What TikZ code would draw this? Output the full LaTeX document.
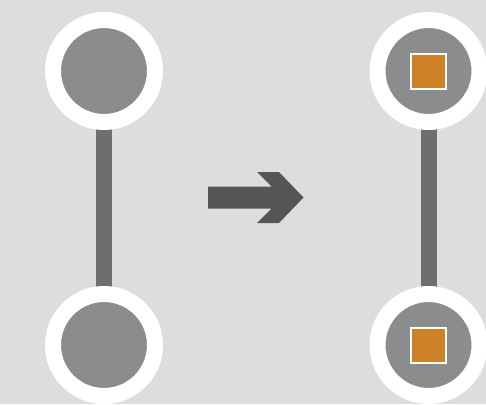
\documentclass[tikz,border=0pt]{standalone}
\definecolor{bgc}{HTML}{DCDDDF}
\definecolor{innerc}{HTML}{8B8C8E}
\definecolor{barc}{HTML}{6D6E70}
\definecolor{arrowc}{HTML}{545654}
\definecolor{orangec}{HTML}{CD8228}
\tikzset{
  ring/.style={circle,draw=white,line width=16pt,fill=innerc,minimum size=102pt,inner sep=0pt,outer sep=0pt},
  sq/.style={rectangle,draw=white,line width=2pt,fill=orangec,minimum size=35pt,inner sep=0pt,outer sep=0pt},
  bar/.style={draw=barc,line width=16pt},
  bigarrow/.style={fill=arrowc}
}
\begin{document}
\begin{tikzpicture}[x=1pt,y=-1pt]
\fill[bgc] (0,0) rectangle (486,404);
\useasboundingbox (0,0) rectangle (486,404);
\coordinate (lt) at (104,71);
\coordinate (lb) at (104,345);
\coordinate (rt) at (428.5,71);
\coordinate (rb) at (428.5,345);
\draw[bar] (lt) -- (lb);
\draw[bar] (rt) -- (rb);
\node[ring] (ltn) at (lt) {};
\node[ring] (lbn) at (lb) {};
\node[ring] (rtn) at (rt) {};
\node[ring] (rbn) at (rb) {};
\node[sq] (rts) at (rtn.center) {};
\node[sq] (rbs) at (rbn.center) {};
\fill[bigarrow] (208,186.5) -- (271.5,186.5) -- (257,172) -- (279,172) -- (303.5,197.5) -- (279,223) -- (257,223) -- (271.5,208.5) -- (208,208.5) -- cycle;
\end{tikzpicture}
\end{document}
